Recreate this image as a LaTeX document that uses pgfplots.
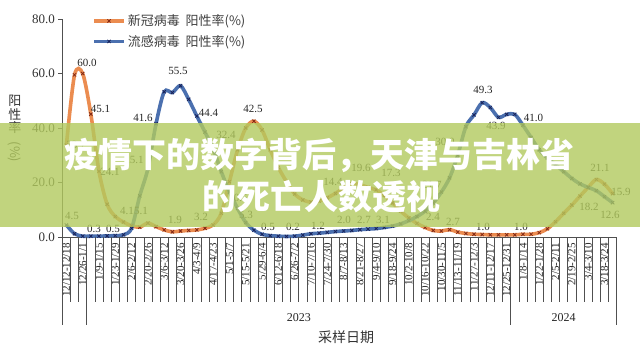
\documentclass[border=0pt]{standalone}
\usepackage{fontspec}
\setmainfont{Liberation Serif}
\newfontfamily\cjk{Noto Sans CJK SC}
\usepackage{pgfplots}
\pgfplotsset{compat=1.18}
\definecolor{cOrange}{RGB}{235,140,80}
\definecolor{cBlue}{RGB}{75,112,175}
\definecolor{mOrange}{RGB}{130,40,20}
\definecolor{mBlue}{RGB}{25,35,90}
\definecolor{banner}{RGB}{178,202,94}
\definecolor{axisgray}{RGB}{80,80,80}
\begin{document}
\begin{tikzpicture}[x=1pt,y=1pt,
  lbl/.style={font=\fontsize{11}{11}\selectfont, text=black!85, inner sep=0pt}]
\fill[white] (-62.3,-114) rectangle (577.7,237);
\path[use as bounding box] (-62.3,-114) rectangle (577.7,237);
\begin{axis}[
  at={(0pt,0pt)}, anchor=south west, scale only axis,
  width=554.4pt, height=218pt,
  xmin=0, xmax=68, ymin=0, ymax=80,
  axis lines=left, axis line style={-, draw=axisgray, line width=0.8pt},
  clip=false,
  /pgf/number format/assume math mode=true,
  ytick={0,20,40,60,80},
  y tick label style={/pgf/number format/fixed, /pgf/number format/fixed zerofill, /pgf/number format/precision=1, font=\fontsize{13}{13}\selectfont, text=black!80},
  ytick style={draw=axisgray, line width=0.8pt},
  tick align=outside, major tick length=4pt,
  xtick={0.5,2.5,...,66.5},
  xticklabels={12/12-12/18, 12/26-1/1, 1/9-1/15, 1/23-1/29, 2/6-2/12, 2/20-2/26, 3/6-3/12, 3/20-3/26, 4/3-4/9, 4/17-4/23, 5/1-5/7, 5/15-5/21, 5/29-6/4, 6/12-6/18, 6/26-7/2, 7/10-7/16, 7/24-7/30, 8/7-8/13, 8/21-8/27, 9/4-9/10, 9/18-9/24, 10/2-10/8, 10/16-10/22, 10/30-11/5, 11/13-11/19, 11/27-12/3, 12/11-12/17, 12/25-12/31, 1/8-1/14, 1/22-1/28, 2/5-2/11, 2/19-2/25, 3/4-3/10, 3/18-3/24},
  x tick label style={rotate=90, anchor=east, font=\fontsize{11}{11}\selectfont, text=black!85, inner sep=2pt},
  xtick style={draw=none},
  legend style={at={(axis description cs:0.0536,1.03)}, anchor=north west, draw=none, fill=none, inner sep=0pt, row sep=4pt, font=\cjk\fontsize{13}{13}\selectfont, text=black!75, nodes={inner sep=2pt}},
  legend cell align=left,
  legend image code/.code={\draw[#1, mark repeat=2, mark phase=2] plot coordinates {(0pt,0pt) (15pt,0pt) (30pt,0pt)};},
]
\addplot[cOrange, line width=3.6pt, smooth, tension=0.5, mark=x, mark size=2.3pt, mark options={draw=mOrange, line width=0.8pt, solid}] coordinates {
(0.5,33.7)(1.5,59.5)(2.5,60.0)(3.5,45.1)(4.5,24.1)(5.5,12.0)(6.5,7.5)(7.5,5.5)(8.5,4.1)(9.5,3.6)(10.5,5.1)(11.5,3.8)(12.5,2.6)(13.5,1.9)(14.5,2.2)(15.5,2.4)(16.5,2.6)(17.5,3.2)(18.5,4.4)(19.5,8.7)(20.5,20.3)(21.5,32.0)(22.5,40.0)(23.5,42.5)(24.5,39.3)(25.5,32.0)(26.5,25.5)(27.5,20.3)(28.5,15.8)(29.5,13.6)(30.5,12.8)(31.5,13.2)(32.5,14.4)(33.5,16.0)(34.5,18.0)(35.5,19.6)(36.5,19.2)(37.5,18.2)(38.5,17.3)(39.5,15.2)(40.5,12.5)(41.5,9.5)(42.5,7.0)(43.5,5.0)(44.5,3.5)(45.5,2.4)(46.5,2.2)(47.5,2.7)(48.5,1.8)(49.5,1.3)(50.5,1.0)(51.5,0.9)(52.5,0.8)(53.5,0.8)(54.5,0.8)(55.5,0.8)(56.5,1.0)(57.5,1.0)(58.5,1.6)(59.5,3.0)(60.5,5.6)(61.5,8.7)(62.5,11.7)(63.5,15.0)(64.5,18.2)(65.5,21.1)(66.5,19.4)(67.5,15.9)};
\addlegendentry{新冠病毒\ \ 阳性率(\%)}
\addplot[cBlue, line width=3.6pt, smooth, tension=0.5, mark=x, mark size=2.3pt, mark options={draw=mBlue, line width=0.8pt, solid}] coordinates {
(0.5,4.4)(1.5,1.2)(2.5,0.3)(3.5,0.3)(4.5,0.3)(5.5,0.4)(6.5,0.5)(7.5,0.8)(8.5,3.2)(9.5,15.1)(10.5,25.1)(11.5,41.6)(12.5,53.3)(13.5,53.0)(14.5,55.5)(15.5,50.5)(16.5,44.4)(17.5,38.5)(18.5,32.4)(19.5,24.0)(20.5,16.5)(21.5,10.5)(22.5,5.3)(23.5,2.5)(24.5,1.0)(25.5,0.5)(26.5,0.3)(27.5,0.2)(28.5,0.3)(29.5,0.7)(30.5,1.2)(31.5,1.4)(32.5,1.7)(33.5,2.0)(34.5,2.2)(35.5,2.4)(36.5,2.7)(37.5,2.9)(38.5,3.1)(39.5,3.5)(40.5,4.0)(41.5,4.8)(42.5,6.0)(43.5,7.5)(44.5,9.5)(45.5,12.5)(46.5,16.5)(47.5,21.7)(48.5,30.0)(49.5,40.5)(50.5,44.8)(51.5,49.3)(52.5,47.5)(53.5,43.9)(54.5,45.0)(55.5,45.0)(56.5,41.0)(57.5,36.5)(58.5,32.0)(59.5,29.0)(60.5,26.5)(61.5,24.0)(62.5,21.5)(63.5,19.5)(64.5,18.2)(65.5,17.0)(66.5,14.8)(67.5,12.6)};
\addlegendentry{流感病毒\ \ 阳性率(\%)}
% category separators
\pgfplotsinvokeforeach{0,...,68}{\draw[axisgray, line width=0.6pt] (axis cs:#1,0) -- ++(0pt,-65pt);}
\pgfplotsinvokeforeach{0,3,55,68}{\draw[axisgray, line width=0.6pt] (axis cs:#1,0) -- ++(0pt,-88pt);}
% data labels (orange)
\node[lbl] at (axis cs:3.03,63.9) {60.0};
\node[lbl] at (axis cs:4.69,47.0) {45.1};
\node[lbl] at (axis cs:1.68,33.8) {33.7};
\node[lbl] at (axis cs:5.85,23.9) {24.1};
\node[lbl] at (axis cs:7.94,9.5) {4.1};
\node[lbl] at (axis cs:9.65,9.5) {5.1};
\node[lbl] at (axis cs:13.82,6.2) {1.9};
\node[lbl] at (axis cs:17.01,7.3) {3.2};
\node[lbl] at (axis cs:23.39,47.0) {42.5};
\node[lbl] at (axis cs:33.2,20.2) {14.4};
\node[lbl] at (axis cs:36.64,25.3) {19.6};
\node[lbl] at (axis cs:40.32,23.5) {17.3};
\node[lbl] at (axis cs:45.47,7.3) {2.4};
\node[lbl] at (axis cs:47.92,5.5) {2.7};
\node[lbl] at (axis cs:51.6,3.7) {1.0};
\node[lbl] at (axis cs:56.26,3.7) {1.0};
\node[lbl] at (axis cs:64.6,11.0) {18.2};
\node[lbl] at (axis cs:65.95,25.3) {21.1};
\node[lbl] at (axis cs:68.53,16.5) {15.9};
% data labels (blue)
\node[lbl] at (axis cs:1.19,7.7) {4.5};
\node[lbl] at (axis cs:3.89,2.9) {0.3};
\node[lbl] at (axis cs:6.22,2.9) {0.5};
\node[lbl] at (axis cs:8.8,28.3) {25.1};
\node[lbl] at (axis cs:9.9,43.7) {41.6};
\node[lbl] at (axis cs:14.19,60.9) {55.5};
\node[lbl] at (axis cs:17.93,45.5) {44.4};
\node[lbl] at (axis cs:20.08,37.4) {32.4};
\node[lbl] at (axis cs:21.55,14.3) {10.5};
\node[lbl] at (axis cs:22.53,8.1) {5.3};
\node[lbl] at (axis cs:25.23,3.7) {0.5};
\node[lbl] at (axis cs:28.3,3.7) {0.2};
\node[lbl] at (axis cs:31.36,4.0) {1.2};
\node[lbl] at (axis cs:34.55,6.2) {2.0};
\node[lbl] at (axis cs:37.0,6.2) {2.7};
\node[lbl] at (axis cs:39.34,6.2) {3.1};
\node[lbl] at (axis cs:45.35,19.1) {21.7};
\node[lbl] at (axis cs:46.94,34.9) {30.0};
\node[lbl] at (axis cs:51.6,53.9) {49.3};
\node[lbl] at (axis cs:53.19,40.7) {43.9};
\node[lbl] at (axis cs:57.8,43.7) {41.0};
\node[lbl] at (axis cs:67.18,8.1) {12.6};
\end{axis}
% year labels and axis title
\node[font=\fontsize{12}{12}\selectfont, text=black!85] at (236.45,-81) {2023};
\node[font=\fontsize{12}{12}\selectfont, text=black!85] at (501.4,-81) {2024};
\node[font=\cjk\fontsize{14}{14}\selectfont, text=black!80] at (283.7,-100) {采样日期};
% y axis title
\node[font=\cjk\fontsize{13}{13}\selectfont, text=black!80, inner sep=0pt] at (-47.3,136) {阳};
\node[font=\cjk\fontsize{13}{13}\selectfont, text=black!80, inner sep=0pt] at (-47.3,122) {性};
\node[font=\cjk\fontsize{13}{13}\selectfont, text=black!80, inner sep=0pt] at (-47.3,109) {率};
\node[font=\cjk\fontsize{13}{13}\selectfont, text=black!80, inner sep=0pt, rotate=-90] at (-47.3,85) {(\%)};
% banner
\fill[banner, opacity=0.8] (-62.3,9.7) rectangle (577.7,113.7);
\node[text=white, font=\cjk\bfseries\fontsize{34}{34}\selectfont, inner sep=0pt] at (257.7,82) {疫情下的数字背后，天津与吉林省};
\node[text=white, font=\cjk\bfseries\fontsize{34}{34}\selectfont, inner sep=0pt] at (258.7,40) {的死亡人数透视};
\end{tikzpicture}
\end{document}
